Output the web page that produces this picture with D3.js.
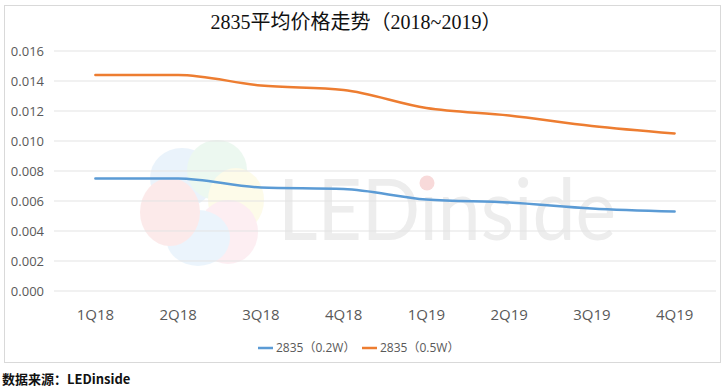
<!DOCTYPE html>
<html>
<head>
<meta charset="utf-8">
<script src="https://cdnjs.cloudflare.com/ajax/libs/d3/7.8.5/d3.min.js"></script>
<style>
body { margin: 0; background: #fff; }
svg text { font-family: "Open Sans", "Noto Sans CJK SC", sans-serif; }
</style>
</head>
<body>
<script>
var width = 725, height = 387;

// data
var quarters = ["1Q18", "2Q18", "3Q18", "4Q18", "1Q19", "2Q19", "3Q19", "4Q19"];
var series02 = [0.0075, 0.0075, 0.0069, 0.0068, 0.0061, 0.0059, 0.0055, 0.0053];
var series05 = [0.0144, 0.0144, 0.0137, 0.0134, 0.0122, 0.0117, 0.0110, 0.0105];
var seriesNames = ["2835（0.2W）", "2835（0.5W）"];
var yTicks = [0, 0.002, 0.004, 0.006, 0.008, 0.010, 0.012, 0.014, 0.016];
var colors = ["#5b9bd5", "#ed7d31"];

var svg = d3.select("body").append("svg")
            .attr("width", width).attr("height", height);

// frame
svg.append("rect").attr("x", 4.5).attr("y", 5.5).attr("width", 716).attr("height", 357)
   .attr("fill", "#fff").attr("stroke", "#d9d9d9");

var x = d3.scaleBand().domain(quarters).range([54, 716]);
var y = d3.scaleLinear().domain([0, 0.016]).range([291, 51]);

// watermark logo
var wm = svg.append("g").attr("opacity", 0.14);
var petals = [
  {cx: 182, cy: 178, rx: 32, ry: 30, c: "#6fb0e8"},
  {cx: 217, cy: 170, rx: 30, ry: 30, c: "#7fd09a"},
  {cx: 236, cy: 200, rx: 28, ry: 32, c: "#f2e46a"},
  {cx: 228, cy: 232, rx: 30, ry: 32, c: "#f28aa8"},
  {cx: 198, cy: 238, rx: 32, ry: 28, c: "#78b8ee"},
  {cx: 170, cy: 212, rx: 30, ry: 34, c: "#f07070"}
];
wm.selectAll("ellipse").data(petals).enter().append("ellipse")
  .attr("cx", function(d){ return d.cx; })
  .attr("cy", function(d){ return d.cy; })
  .attr("rx", function(d){ return d.rx; })
  .attr("ry", function(d){ return d.ry; })
  .attr("fill", function(d){ return d.c; });
svg.append("text").attr("x", 278).attr("y", 240)
   .attr("font-size", 86).attr("fill", "#ededed")
   .attr("textLength", 338).attr("lengthAdjust", "spacingAndGlyphs")
   .style("font-family", "Lato, sans-serif").style("font-weight", 400)
   .text("LEDinside");
svg.append("circle").attr("cx", 427).attr("cy", 183).attr("r", 7.5).attr("fill", "#f8dada");

// gridlines
svg.append("g").selectAll("line").data(yTicks).enter().append("line")
   .attr("x1", 54).attr("x2", 716)
   .attr("y1", function(d){ return y(d); })
   .attr("y2", function(d){ return y(d); })
   .attr("stroke", "#e3e3e3").attr("stroke-width", 1);

// y labels
svg.append("g").selectAll("text").data(yTicks).enter().append("text")
   .attr("x", 44).attr("y", function(d){ return y(d) + 5; })
   .attr("text-anchor", "end").attr("font-size", 13).attr("fill", "#595959")
   .text(function(d){ return d3.format(".3f")(d); });

// x labels
svg.append("g").selectAll("text").data(quarters).enter().append("text")
   .attr("x", function(d){ return x(d) + x.bandwidth() / 2; })
   .attr("y", 320)
   .attr("text-anchor", "middle").attr("font-size", 15).attr("fill", "#595959")
   .text(function(d){ return d; });

// lines
var line = d3.line()
   .x(function(d, i){ return x(quarters[i]) + x.bandwidth() / 2; })
   .y(function(d){ return y(d); })
   .curve(d3.curveMonotoneX);

[series02, series05].forEach(function(s, i){
  svg.append("path").datum(s).attr("d", line)
     .attr("fill", "none").attr("stroke", colors[i]).attr("stroke-width", 2.5)
     .attr("stroke-linecap", "round");
});

// title
svg.append("text").attr("x", 356).attr("y", 29)
   .attr("text-anchor", "middle").attr("font-size", 20).attr("fill", "#111")
   .style("font-family", "'Liberation Serif', 'Noto Sans CJK SC', serif")
   .text("2835平均价格走势（2018~2019）");

// legend
var legend = svg.append("g").selectAll("g").data(seriesNames).enter().append("g")
   .attr("transform", function(d, i){ return "translate(258," + 348 + ")translate(" + (i * 104) + ",0)"; });
legend.append("line").attr("x1", 0).attr("x2", 15).attr("y1", 0).attr("y2", 0)
   .attr("stroke", function(d, i){ return colors[i]; }).attr("stroke-width", 2.5);
legend.append("text").attr("x", 18).attr("y", 4).attr("font-size", 12).attr("fill", "#595959")
   .text(function(d){ return d; });

// source
svg.append("text").attr("x", 2).attr("y", 384).attr("font-size", 13)
   .attr("font-weight", "bold").attr("fill", "#111")
   .style("font-family", "'Noto Sans CJK SC', sans-serif")
   .text("数据来源：LEDinside");
</script>
</body>
</html>
